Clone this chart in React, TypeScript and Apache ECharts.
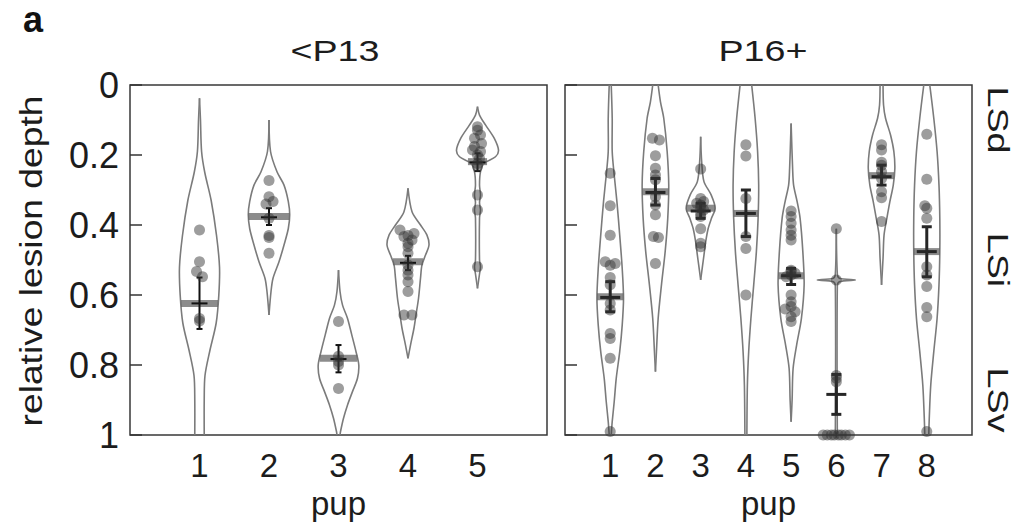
import React, { useEffect, useRef } from 'react';
import * as echarts from 'echarts';

// ---------- data ----------
const leftPups = ['1', '2', '3', '4', '5'];
const rightPups = ['1', '2', '3', '4', '5', '6', '7', '8'];
const panelTitles = ['<P13', 'P16+'];
const yAxisTitle = 'relative lesion depth';
const layerLabels = ['LSd', 'LSi', 'LSv'];
const layerDepths = [0.1, 0.5, 0.9];

// violin outlines: [relative depth, half-width in pup units]
const leftViolins: number[][][] = [
  [[0.038, 0], [0.1, 0.014], [0.19, 0.03], [0.25, 0.076], [0.33, 0.168], [0.43, 0.245], [0.52, 0.288], [0.6, 0.278], [0.68, 0.24], [0.76, 0.148], [0.83, 0.079], [0.9, 0.068], [1, 0.068]],
  [[0.1, 0], [0.19, 0.022], [0.248, 0.115], [0.286, 0.216], [0.333, 0.278], [0.371, 0.298], [0.41, 0.278], [0.457, 0.216], [0.505, 0.144], [0.552, 0.058], [0.59, 0.029], [0.657, 0]],
  [[0.529, 0], [0.59, 0.022], [0.629, 0.058], [0.667, 0.13], [0.714, 0.191], [0.762, 0.252], [0.8, 0.292], [0.838, 0.273], [0.876, 0.201], [0.914, 0.13], [0.952, 0.072], [0.99, 0.029], [1, 0.022]],
  [[0.295, 0], [0.362, 0.058], [0.4, 0.18], [0.429, 0.273], [0.457, 0.302], [0.486, 0.252], [0.514, 0.201], [0.552, 0.18], [0.61, 0.151], [0.657, 0.115], [0.695, 0.086], [0.743, 0.036], [0.781, 0]],
  [[0.062, 0], [0.086, 0.029], [0.114, 0.115], [0.152, 0.24], [0.186, 0.302], [0.205, 0.259], [0.224, 0.094], [0.248, 0.043], [0.286, 0.029], [0.314, 0.043], [0.336, 0.029], [0.357, 0.043], [0.38, 0.029], [0.5, 0.029], [0.519, 0.043], [0.54, 0.029], [0.581, 0]],
];
const rightViolins: number[][][] = [
  [[0, 0.022], [0.095, 0.044], [0.19, 0.044], [0.257, 0.088], [0.333, 0.148], [0.429, 0.21], [0.524, 0.265], [0.61, 0.294], [0.686, 0.265], [0.762, 0.21], [0.838, 0.133], [0.905, 0.088], [0.962, 0.044], [1, 0.022]],
  [[0, 0.06], [0.048, 0.111], [0.095, 0.184], [0.19, 0.259], [0.286, 0.294], [0.381, 0.272], [0.476, 0.215], [0.571, 0.133], [0.667, 0.06], [0.762, 0.022], [0.819, 0]],
  [[0.148, 0], [0.219, 0.022], [0.276, 0.073], [0.314, 0.232], [0.352, 0.321], [0.381, 0.239], [0.41, 0.166], [0.448, 0.111], [0.486, 0.073], [0.514, 0.044], [0.557, 0]],
  [[0, 0.128], [0.095, 0.204], [0.19, 0.259], [0.286, 0.283], [0.381, 0.27], [0.476, 0.232], [0.571, 0.173], [0.667, 0.111], [0.762, 0.062], [0.857, 0.033], [1, 0.022]],
  [[0.11, 0], [0.238, 0.033], [0.286, 0.055], [0.333, 0.133], [0.381, 0.199], [0.476, 0.259], [0.571, 0.288], [0.667, 0.228], [0.743, 0.122], [0.81, 0.044], [0.9, 0.022], [0.962, 0]],
  [[0.411, 0], [0.54, 0.022], [0.552, 0.066], [0.557, 0.42], [0.562, 0.066], [0.575, 0.022], [1, 0.022]],
  [[0, 0.033], [0.057, 0.044], [0.095, 0.088], [0.143, 0.199], [0.19, 0.272], [0.238, 0.294], [0.286, 0.259], [0.333, 0.184], [0.381, 0.117], [0.429, 0.055], [0.495, 0.033], [0.571, 0]],
  [[0, 0.066], [0.095, 0.155], [0.19, 0.228], [0.286, 0.27], [0.381, 0.288], [0.476, 0.288], [0.571, 0.27], [0.667, 0.228], [0.762, 0.155], [0.857, 0.088], [0.952, 0.055], [1, 0.044]],
];

// individual lesions (relative depth) and their horizontal jitter (pup units)
const leftPoints: number[][] = [
  [0.414, 0.505, 0.533, 0.548, 0.667, 0.674],
  [0.273, 0.319, 0.333, 0.34, 0.381, 0.43, 0.436, 0.481],
  [0.676, 0.775, 0.79, 0.8, 0.867],
  [0.414, 0.424, 0.43, 0.433, 0.443, 0.452, 0.462, 0.481, 0.514, 0.529, 0.543, 0.562, 0.59, 0.657, 0.657],
  [0.119, 0.129, 0.143, 0.152, 0.167, 0.176, 0.186, 0.19, 0.2, 0.21, 0.224, 0.233, 0.314, 0.357, 0.519],
];
const leftJitter: number[][] = [
  [0, 0, -0.043, 0.043, 0, 0],
  [0, 0, 0.058, -0.043, 0, 0, 0, 0],
  [0, 0, 0, 0, 0],
  [-0.115, 0.086, 0, -0.058, 0.058, 0, 0, 0, 0, 0, 0, 0, 0, -0.058, 0.058],
  [0, 0, 0.043, -0.043, 0.058, -0.043, -0.072, 0.043, 0, 0.029, 0, 0, 0, 0, 0],
];
const rightPoints: number[][] = [
  [0.252, 0.345, 0.429, 0.505, 0.51, 0.515, 0.55, 0.571, 0.624, 0.643, 0.71, 0.724, 0.781, 0.99],
  [0.152, 0.157, 0.202, 0.238, 0.257, 0.271, 0.319, 0.343, 0.371, 0.433, 0.436, 0.51],
  [0.24, 0.324, 0.333, 0.338, 0.343, 0.352, 0.357, 0.367, 0.376, 0.411, 0.452, 0.462],
  [0.171, 0.203, 0.324, 0.433, 0.467, 0.6],
  [0.36, 0.376, 0.395, 0.414, 0.429, 0.443, 0.529, 0.533, 0.538, 0.543, 0.548, 0.6, 0.619, 0.633, 0.64, 0.648, 0.662, 0.676],
  [0.411, 0.557, 0.83, 0.838, 0.848, 1, 1, 1, 1, 1, 1, 1, 1],
  [0.171, 0.186, 0.221, 0.229, 0.248, 0.267, 0.305, 0.322, 0.39],
  [0.141, 0.269, 0.345, 0.352, 0.381, 0.519, 0.543, 0.576, 0.636, 0.662, 0.99],
];
const rightJitter: number[][] = [
  [0, 0, 0, -0.11, 0.11, 0, 0, 0, 0, 0, 0, 0, 0, 0],
  [-0.066, 0.088, 0, 0, 0, 0, 0, 0, 0, -0.044, 0.066, 0],
  [0, 0, 0.066, -0.088, 0, 0, 0.066, 0, 0, 0, 0, 0],
  [0, 0, 0, 0, 0, 0],
  [0, 0, 0, 0, 0, 0, 0, 0, 0.088, 0, -0.11, 0, 0, 0, -0.13, 0.088, 0, 0],
  [0, 0, 0, 0, 0, -0.29, -0.2, -0.11, -0.044, 0.044, 0.11, 0.2, 0.29],
  [0, 0, 0, 0, 0, 0, 0, 0, 0],
  [0, 0, -0.044, 0, 0, 0, 0, 0, 0, 0, 0],
];

// summary statistics
const leftMedians = [0.624, 0.376, 0.781, 0.505, 0.219];
const leftMeans = [0.624, 0.378, 0.783, 0.508, 0.221];
const leftErrLo = [0.55, 0.352, 0.743, 0.488, 0.195];
const leftErrHi = [0.697, 0.4, 0.821, 0.529, 0.246];
const rightMedians = [0.605, 0.305, 0.352, 0.367, 0.545, 1, 0.259, 0.476];
const rightMeans = [0.607, 0.307, 0.36, 0.367, 0.545, 0.884, 0.262, 0.476];
const rightErrLo = [0.562, 0.267, 0.338, 0.3, 0.524, 0.827, 0.229, 0.405];
const rightErrHi = [0.648, 0.343, 0.381, 0.433, 0.57, 0.941, 0.286, 0.548];

// ---------- helpers ----------
const FONT = '"Liberation Sans", Arial, Helvetica, sans-serif';
const TEXT = '#1c1c1c';
const GRID_TOP = 85;
const GRID_H = 350;

function widthAt(profile: number[][], v: number): number {
  for (let i = 0; i < profile.length - 1; i++) {
    const [v0, w0] = profile[i];
    const [v1, w1] = profile[i + 1];
    if (v >= v0 && v <= v1) {
      return v1 === v0 ? Math.max(w0, w1) : w0 + ((w1 - w0) * (v - v0)) / (v1 - v0);
    }
  }
  return 0;
}

function violinSeries(idx: number, profiles: number[][][]) {
  return {
    type: 'custom',
    xAxisIndex: idx,
    yAxisIndex: idx,
    clip: true,
    silent: true,
    data: profiles.map((_, i) => [i + 1, 0.5]),
    renderItem: (params: any, api: any) => {
      const i = params.dataIndex;
      const cx = i + 1;
      const prof = profiles[i];
      const l = prof.map(([v, w]) => api.coord([cx - w, v]));
      const r = prof.map(([v, w]) => api.coord([cx + w, v]));
      const style = { fill: 'none', stroke: '#7b7b7b', lineWidth: 1.6 };
      return {
        type: 'group',
        children: [
          { type: 'polyline', shape: { points: l, smooth: 0.3 }, style },
          { type: 'polyline', shape: { points: r, smooth: 0.3 }, style },
        ],
      };
    },
  };
}

function pointSeries(idx: number, pts: number[][], jit: number[][]) {
  const data: number[][] = [];
  pts.forEach((arr, i) => arr.forEach((v, j) => data.push([i + 1 + ((jit[i] && jit[i][j]) || 0), v])));
  return {
    type: 'scatter',
    xAxisIndex: idx,
    yAxisIndex: idx,
    silent: true,
    symbol: 'circle',
    symbolSize: 11,
    itemStyle: { color: 'rgba(50,50,50,0.6)' },
    data,
  };
}

function medianSeries(idx: number, medians: number[], profiles: number[][][]) {
  return {
    type: 'custom',
    xAxisIndex: idx,
    yAxisIndex: idx,
    silent: true,
    data: medians.map((m, i) => [i + 1, m]),
    renderItem: (params: any, api: any) => {
      const cx = api.value(0);
      const m = api.value(1);
      const w = widthAt(profiles[params.dataIndex], m);
      const a = api.coord([cx - w, m]);
      const b = api.coord([cx + w, m]);
      return {
        type: 'line',
        shape: { x1: a[0], y1: a[1], x2: b[0], y2: b[1] },
        style: { stroke: 'rgba(95,95,95,0.72)', lineWidth: 7 },
      };
    },
  };
}

function meanSeries(idx: number, means: number[], lo: number[], hi: number[], half: number, cap: number, lw: number, color: string) {
  return {
    type: 'custom',
    xAxisIndex: idx,
    yAxisIndex: idx,
    silent: true,
    data: means.map((m, i) => [i + 1, m, lo[i], hi[i]]),
    renderItem: (_p: any, api: any) => {
      const x = api.value(0);
      const c = api.coord([x, api.value(1)]);
      const a = api.coord([x, api.value(2)]);
      const b = api.coord([x, api.value(3)]);
      const style = { stroke: color, lineWidth: lw };
      return {
        type: 'group',
        children: [
          { type: 'line', shape: { x1: c[0] - half, y1: c[1], x2: c[0] + half, y2: c[1] }, style },
          { type: 'line', shape: { x1: a[0], y1: a[1], x2: b[0], y2: b[1] }, style },
          { type: 'line', shape: { x1: a[0] - cap, y1: a[1], x2: a[0] + cap, y2: a[1] }, style },
          { type: 'line', shape: { x1: b[0] - cap, y1: b[1], x2: b[0] + cap, y2: b[1] }, style },
        ],
      };
    },
  };
}

function xAxis(idx: number, cats: string[]) {
  return {
    gridIndex: idx,
    type: 'value',
    min: 0,
    max: cats.length + 1,
    interval: 1,
    axisLine: { show: false },
    axisTick: { show: false },
    splitLine: { show: false },
    axisLabel: {
      formatter: (v: number) => cats[v - 1] || '',
      fontSize: 33,
      color: TEXT,
      fontFamily: FONT,
      margin: 14,
    },
    name: 'pup',
    nameLocation: 'middle',
    nameGap: 49,
    nameTextStyle: { fontSize: 33, color: TEXT, fontFamily: FONT },
  };
}

function yAxis(idx: number, labels: boolean) {
  return {
    gridIndex: idx,
    type: 'value',
    min: 0,
    max: 1,
    interval: 0.2,
    inverse: true,
    axisLine: { show: false },
    axisTick: { show: true, inside: true, length: 12, lineStyle: { color: '#333', width: 1.5 } },
    splitLine: { show: false },
    axisLabel: {
      show: labels,
      fontSize: 36,
      color: TEXT,
      fontFamily: FONT,
      margin: 11,
      formatter: (v: number) => String(Math.round(v * 10) / 10),
    },
  };
}

function stretchedText(text: string, x: number, y: number, size: number, stretch: number, rotation: number) {
  return {
    type: 'text',
    x,
    y,
    rotation,
    scaleX: stretch,
    style: { text, fontSize: size, fill: TEXT, fontFamily: FONT, align: 'center', verticalAlign: 'middle' },
  };
}

const option: any = {
  animation: false,
  backgroundColor: '#ffffff',
  grid: [
    { left: 130, top: GRID_TOP, width: 417, height: GRID_H, show: true, borderColor: '#383838', borderWidth: 1.5, backgroundColor: 'transparent' },
    { left: 565, top: GRID_TOP, width: 407, height: GRID_H, show: true, borderColor: '#383838', borderWidth: 1.5, backgroundColor: 'transparent' },
  ],
  xAxis: [xAxis(0, leftPups), xAxis(1, rightPups)],
  yAxis: [yAxis(0, true), yAxis(1, false)],
  series: [
    violinSeries(0, leftViolins),
    pointSeries(0, leftPoints, leftJitter),
    medianSeries(0, leftMedians, leftViolins),
    meanSeries(0, leftMeans, leftErrLo, leftErrHi, 8, 3, 2, '#111111'),
    violinSeries(1, rightViolins),
    pointSeries(1, rightPoints, rightJitter),
    medianSeries(1, rightMedians, rightViolins),
    meanSeries(1, rightMeans, rightErrLo, rightErrHi, 10, 5, 3, '#262626'),
  ],
  graphic: [
    { type: 'text', x: 33, y: 19, style: { text: 'a', fontSize: 36, fontWeight: 'bold', fill: '#111', fontFamily: FONT, align: 'center', verticalAlign: 'middle' } },
    stretchedText(panelTitles[0], 335, 51, 29, 1.3, 0),
    stretchedText(panelTitles[1], 763, 51, 29, 1.3, 0),
    stretchedText(yAxisTitle, 31, 261, 31, 1.2, Math.PI / 2),
    ...layerLabels.map((t, i) => stretchedText(t, 998, GRID_TOP + GRID_H * layerDepths[i], 29, 1.3, -Math.PI / 2)),
  ],
};

export default function App() {
  const ref = useRef<HTMLDivElement>(null);
  useEffect(() => {
    const chart = echarts.init(ref.current!, null, { renderer: 'svg' });
    chart.setOption(option);
    return () => chart.dispose();
  }, []);
  return <div ref={ref} style={{ position: 'absolute', left: 0, top: 0, width: 1021, height: 531 }} />;
}
